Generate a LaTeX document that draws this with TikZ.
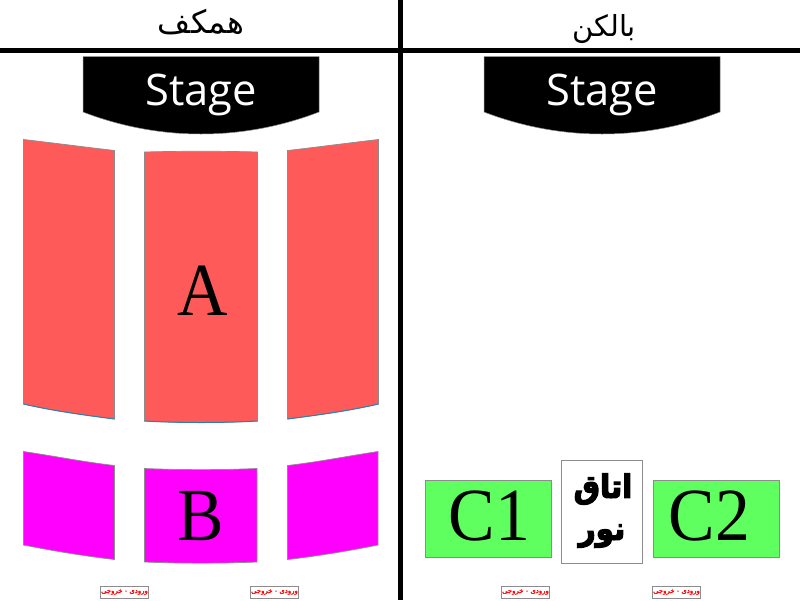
\documentclass[tikz,border=0pt]{standalone}
\usepackage{fontspec}
\setmainfont{Liberation Serif}
\newfontfamily\stagefont{Open Sans}
\newfontfamily\arabicfont[Script=Arabic]{DejaVu Sans}
\newfontfamily\arabicexit[Script=Arabic,FakeBold=1.5]{DejaVu Sans}
\newfontfamily\arabicbold[Script=Arabic,FakeBold=4]{DejaVu Sans Bold}
\TeXXeTstate=1
\definecolor{redseat}{HTML}{FF5A5A}
\definecolor{magseat}{HTML}{FF00FF}
\definecolor{greenseat}{HTML}{5FFF5F}
\definecolor{edgegray}{HTML}{8C8C8C}
\definecolor{edgeblue}{HTML}{2F7FA8}
\tikzset{
 x=1pt,y=-1pt,
 divider/.style={line width=5pt,black},
 stagebox/.style={fill=black,draw=edgegray,line width=0.5pt},
 stagetext/.style={text=white,font=\stagefont\fontsize{43.5}{45}\selectfont,inner sep=0pt},
 redblock/.style={fill=redseat,draw=edgegray,line width=0.7pt},
 redbottom/.style={draw=edgeblue,line width=1pt},
 magblock/.style={fill=magseat,draw=edgegray,line width=0.7pt},
 greenblock/.style={fill=greenseat,draw=edgegray,line width=0.7pt},
 biglabel/.style={font=\fontsize{75}{75}\selectfont,inner sep=0pt,transform shape,xscale=0.93},
 exitbox/.style={draw=edgegray,fill=white,line width=0.8pt,minimum width=48pt,minimum height=12pt,inner sep=0pt,text=red,font=\arabicexit\fontsize{6.9}{8}\selectfont},
 title/.style={inner sep=0pt,font=\arabicfont\fontsize{29}{30}\selectfont},
}
\begin{document}
\begin{tikzpicture}
\useasboundingbox (0,0) rectangle (800,600);
\fill[white] (0,0) rectangle (800,600);
% dividers
\draw[divider] (0,50) -- (800,50);
\draw[divider] (400.5,0) -- (400.5,600);
% titles
\node[title,font=\arabicfont\fontsize{32}{32}\selectfont] (t1) at (201,22.5) {\beginR همکف\endR};
\node[title] (t2) at (604,29) {\beginR بالکن\endR};
% stages
\draw[stagebox] (83,56.5) -- (319,56.5) -- (319,112) .. controls (280,127) and (240,134) .. (201,134) .. controls (162,134) and (122,127) .. (83,112) -- cycle;
\draw[stagebox] (484,56.5) -- (720,56.5) -- (720,112) .. controls (681,127) and (641,134) .. (602,134) .. controls (563,134) and (523,127) .. (484,112) -- cycle;
\node[stagetext] (s1) at (201,95) {Stage};
\node[stagetext] (s2) at (602,95) {Stage};
% red blocks
\draw[redblock] (23.5,139.5) .. controls (54,143) and (84,147) .. (114.5,150.5) -- (114.5,419) .. controls (84,415) and (54,411) .. (23.5,404) -- cycle;
\draw[redblock] (144.5,152) .. controls (182,151) and (220,151) .. (257.5,152) -- (257.5,421) .. controls (220,423) and (182,423) .. (144.5,421) -- cycle;
\draw[redblock] (287.5,150.5) .. controls (318,147) and (348,143) .. (378.5,139.5) -- (378.5,404) .. controls (348,411) and (318,415) .. (287.5,419) -- cycle;
\draw[redbottom] (23.5,404) .. controls (54,411) and (84,415) .. (114.5,419);
\draw[redbottom] (144.5,421) .. controls (182,423) and (220,423) .. (257.5,421);
\draw[redbottom] (287.5,419) .. controls (318,415) and (348,411) .. (378.5,404);
\node[biglabel] (a) at (202.5,291) {A};
% magenta blocks
\draw[magblock] (23.5,451.5) .. controls (54,456) and (84,462) .. (114.5,465.5) -- (114.5,559.5) .. controls (84,556) and (54,551) .. (23.5,545) -- cycle;
\draw[magblock] (144.5,468.5) .. controls (182,470) and (220,470) .. (257,468.5) -- (257,562) .. controls (220,563.5) and (182,563.5) .. (144.5,562) -- cycle;
\draw[magblock] (287.5,465.5) .. controls (318,462) and (348,456) .. (378,451.5) -- (378,545) .. controls (348,551) and (318,556) .. (287.5,559.5) -- cycle;
\node[biglabel] (b) at (200.5,516) {B};
% balcony blocks
\draw[greenblock] (425.5,480.5) rectangle (551.5,557.5);
\draw[greenblock] (653.5,480.5) rectangle (779,557.5);
\node[biglabel] (c1) at (489.5,516) {C1};
\node[biglabel] (c2) at (709.5,516) {C2};
\node[draw=edgegray,fill=white,line width=0.8pt,minimum width=81pt,minimum height=103pt,inner sep=0pt] (room) at (602,512) {};
\node[inner sep=0pt,font=\arabicbold\fontsize{32}{33}\selectfont,transform shape,xscale=0.92] (r1) at (603,489) {\beginR اتاق\endR};
\node[inner sep=0pt,font=\arabicbold\fontsize{32}{33}\selectfont,transform shape,xscale=0.92] (r2) at (602,536) {\beginR نور\endR};
% exits
\node[exitbox] (e1) at (124.5,592) {\beginR ورودی - خروجی\endR};
\node[exitbox] (e2) at (274.5,592) {\beginR ورودی - خروجی\endR};
\node[exitbox] (e3) at (525.5,592) {\beginR ورودی - خروجی\endR};
\node[exitbox] (e4) at (676.5,592) {\beginR ورودی - خروجی\endR};
\end{tikzpicture}
\end{document}
